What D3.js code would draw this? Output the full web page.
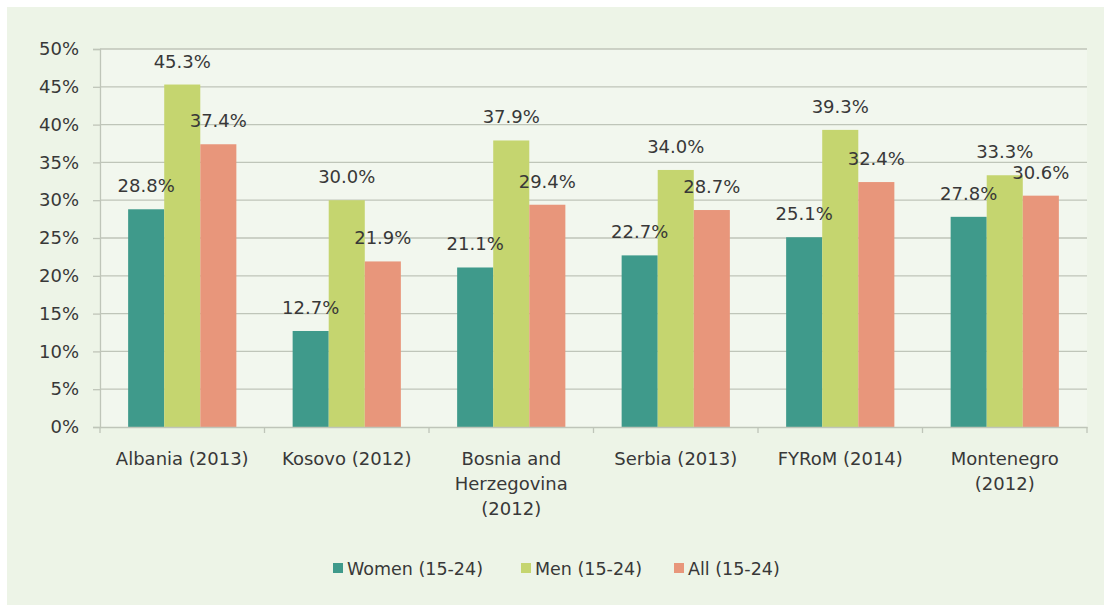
<!DOCTYPE html>
<html>
<head>
<meta charset="utf-8">
<script src="https://cdn.jsdelivr.net/npm/d3@7"></script>
<style>
  html, body { margin: 0; padding: 0; background: #ffffff; }
  svg { display: block; }
  text { font-family: "DejaVu Sans", sans-serif; fill: #383838; }
</style>
</head>
<body>
<div id="chart"></div>
<script>
(function () {
    'use strict';

    // chart values
    var countries = [
        ["Albania (2013)"],
        ["Kosovo (2012)"],
        ["Bosnia and", "Herzegovina", "(2012)"],
        ["Serbia (2013)"],
        ["FYRoM (2014)"],
        ["Montenegro", "(2012)"]
    ];
    var seriesNames = ["Women (15-24)", "Men (15-24)", "All (15-24)"];
    var women = [28.8, 12.7, 21.1, 22.7, 25.1, 27.8];
    var men   = [45.3, 30.0, 37.9, 34.0, 39.3, 33.3];
    var all   = [37.4, 21.9, 29.4, 28.7, 32.4, 30.6];
    var yTicks = [0, 5, 10, 15, 20, 25, 30, 35, 40, 45, 50];
    var colors = ["#3f9a8b", "#c5d56f", "#e8967b"];

    var series = [women, men, all];

    var W = 1104, H = 605;
    var left = 100, right = 1087, top = 49, bottom = 427;
    var gridColor = "#bfc5b9";

    var svg = d3.select("#chart").append("svg")
        .attr("width", W)
        .attr("height", H);

    // panel background
    svg.append("rect")
        .attr("x", 7).attr("y", 7)
        .attr("width", W - 7).attr("height", H - 7)
        .attr("fill", "#edf4e7");

    svg.append("rect")
        .attr("x", left).attr("y", top)
        .attr("width", right - left).attr("height", bottom - top)
        .attr("fill", "#f2f7ee");

    var x0 = d3.scaleBand()
        .domain(d3.range(countries.length))
        .range([left, right])
        .paddingInner(0)
        .paddingOuter(0);

    var x1 = d3.scaleBand()
        .domain(d3.range(series.length))
        .range([0, x0.bandwidth()])
        .paddingOuter(0.78)
        .paddingInner(0);

    var y = d3.scaleLinear()
        .domain([0, 50])
        .range([bottom, top]);

    // gridlines
    svg.append("g").selectAll("line")
        .data(yTicks.slice(1))
        .enter().append("line")
        .attr("x1", left).attr("x2", right)
        .attr("y1", function (d) { return y(d); })
        .attr("y2", function (d) { return y(d); })
        .attr("stroke", gridColor)
        .attr("stroke-width", 1.3);

    // y axis
    var yAxis = d3.axisLeft(y)
        .tickValues(yTicks)
        .tickSize(7)
        .tickPadding(14)
        .tickFormat(function (d) { return d + "%"; });

    var gy = svg.append("g")
        .attr("transform", "translate(" + left + ",0)")
        .call(yAxis);
    gy.select(".domain").attr("stroke", gridColor).attr("stroke-width", 1.3);
    gy.selectAll(".tick line").attr("stroke", gridColor).attr("stroke-width", 1.3);
    gy.selectAll(".tick text")
        .style("font-family", "'DejaVu Sans', sans-serif")
        .style("font-size", "18px")
        .attr("fill", "#383838");

    // bars
    var groups = svg.append("g").selectAll("g")
        .data(countries)
        .enter().append("g")
        .attr("transform", function (d, i) { return "translate(" + x0(i) + ",0)"; });

    groups.selectAll("rect")
        .data(function (d, i) { return series.map(function (s, k) { return { k: k, v: s[i] }; }); })
        .enter().append("rect")
        .attr("x", function (d) { return x1(d.k); })
        .attr("width", x1.bandwidth())
        .attr("y", function (d) { return y(d.v); })
        .attr("height", function (d) { return bottom - y(d.v); })
        .attr("fill", function (d) { return colors[d.k]; });

    groups.selectAll("text.val")
        .data(function (d, i) { return series.map(function (s, k) { return { k: k, v: s[i] }; }); })
        .enter().append("text")
        .attr("class", "val")
        .attr("x", function (d) { return x1(d.k) + x1.bandwidth() / 2; })
        .attr("y", function (d) { return y(d.v) - 17; })
        .attr("text-anchor", "middle")
        .style("font-size", "18px")
        .text(function (d) { return d.v.toFixed(1) + "%"; });

    // x axis
    var xAxis = d3.axisBottom(x0)
        .tickSize(0)
        .tickFormat("");
    var gx = svg.append("g")
        .attr("transform", "translate(0," + bottom + ")")
        .call(xAxis);
    gx.select(".domain").attr("stroke", gridColor).attr("stroke-width", 1.3);

    svg.append("g").selectAll("line")
        .data(d3.range(countries.length + 1))
        .enter().append("line")
        .attr("x1", function (i) { return left + i * x0.step(); })
        .attr("x2", function (i) { return left + i * x0.step(); })
        .attr("y1", bottom)
        .attr("y2", bottom + 6)
        .attr("stroke", gridColor)
        .attr("stroke-width", 1.3);

    var labels = svg.append("g").selectAll("text")
        .data(countries)
        .enter().append("text")
        .attr("text-anchor", "middle")
        .style("font-size", "18px")
        .attr("transform", function (d, i) {
            return "translate(" + (x0(i) + x0.bandwidth() / 2) + "," + (bottom + 38) + ")";
        });
    labels.selectAll("tspan")
        .data(function (d) { return d; })
        .enter().append("tspan")
        .attr("x", 0)
        .attr("dy", function (d, j) { return j === 0 ? 0 : 25; })
        .text(function (d) { return d; });

    // legend
    var legendX = [333, 521, 674];
    var legend = svg.append("g").selectAll("g")
        .data(seriesNames)
        .enter().append("g")
        .attr("transform", function (d, i) { return "translate(" + legendX[i] + ",568)"; });
    legend.append("rect")
        .attr("x", 0).attr("y", -5)
        .attr("width", 10).attr("height", 10)
        .attr("fill", function (d, i) { return colors[i]; });
    legend.append("text")
        .attr("x", 14)
        .attr("y", 6.5)
        .style("font-size", "17.5px")
        .text(function (d) { return d; });
})();
</script>
</body>
</html>
